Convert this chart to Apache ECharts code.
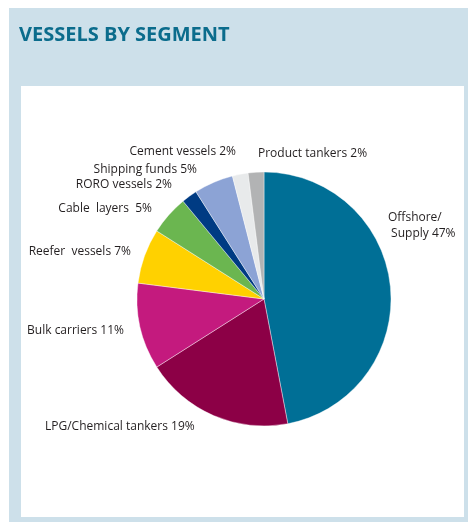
<!DOCTYPE html>
<html>
<head>
<meta charset="utf-8">
<script src="https://cdn.jsdelivr.net/npm/echarts@6/dist/echarts.min.js"></script>
<style>
  html, body { margin: 0; padding: 0; background: #ffffff; }
  #chart { width: 468px; height: 522px; }
</style>
</head>
<body>
<div id="chart"></div>
<script>
// Fleet composition by vessel segment, share of total (%)
const segments = [
  'Offshore/\n Supply',
  'LPG/Chemical tankers',
  'Bulk carriers',
  'Reefer  vessels',
  'Cable  layers ',
  'RORO vessels',
  'Shipping funds',
  'Cement vessels',
  'Product tankers'
];
const shares = [47, 19, 11, 7, 5, 2, 5, 2, 2];
const segmentColors = [
  '#006f96', '#8c0046', '#c41a7e', '#ffd100', '#6bb650',
  '#003b83', '#8ca3d5', '#e8eaeb', '#b2b3b4'
];

// Label anchors [x, y, align] placed around the pie
const labelAnchors = [
  [388, 226, 'left'],
  [45, 427, 'left'],
  [124, 331, 'right'],
  [131, 252, 'right'],
  [152, 209, 'right'],
  [172, 185, 'right'],
  [197, 170, 'right'],
  [236, 152, 'right'],
  [258, 154, 'left']
];

const chart = echarts.init(document.getElementById('chart'), null, { renderer: 'canvas' });

chart.setOption({
  animation: false,
  backgroundColor: '#ffffff',
  graphic: [
    {
      type: 'rect', z: -10, silent: true,
      shape: { x: 9, y: 8, width: 459, height: 514 },
      style: { fill: '#cde0ea' }
    },
    {
      type: 'rect', z: -9, silent: true,
      shape: { x: 21, y: 86, width: 443, height: 431 },
      style: { fill: '#ffffff' }
    }
  ],
  title: {
    text: 'VESSELS BY SEGMENT',
    left: 19,
    top: 25,
    padding: 0,
    textStyle: {
      fontFamily: 'Open Sans',
      fontWeight: 'bold',
      fontSize: 20,
      color: '#0b6c8c'
    }
  },
  series: [{
    type: 'pie',
    center: [264, 299],
    radius: 127,
    startAngle: 90,
    clockwise: true,
    avoidLabelOverlap: false,
    itemStyle: { borderColor: '#ffffff', borderWidth: 0.4 },
    label: {
      show: true,
      position: 'outside',
      formatter: p => p.name + ' ' + p.value + '%',
      fontFamily: 'Open Sans',
      fontSize: 12,
      color: '#231f20',
      lineHeight: 16
    },
    labelLine: { show: false },
    labelLayout: params => {
      const a = labelAnchors[params.dataIndex];
      return { x: a[0], y: a[1], align: a[2], verticalAlign: 'middle' };
    },
    emphasis: { disabled: true },
    data: segments.map((name, i) => ({
      name: name,
      value: shares[i],
      itemStyle: { color: segmentColors[i] }
    }))
  }]
});
</script>
</body>
</html>
